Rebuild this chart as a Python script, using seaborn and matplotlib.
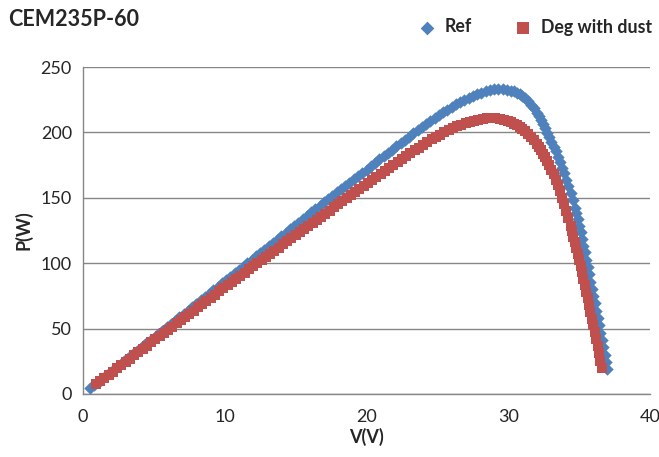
import seaborn as sns
import matplotlib.pyplot as plt
import pandas as pd

# Ref module curve (V, P)
ref_v = [0.5, 0.8, 1.1, 1.4, 1.7, 2.0, 2.3, 2.6, 2.9, 3.2, 3.5, 3.8, 4.1, 4.4, 4.7,
         5.0, 5.3, 5.6, 5.9, 6.2, 6.5, 6.8, 7.1, 7.4, 7.7, 8.0, 8.3, 8.6, 8.9, 9.2,
         9.5, 9.8, 10.1, 10.4, 10.7, 11.0, 11.3, 11.6, 11.9, 12.2, 12.5, 12.8, 13.1,
         13.4, 13.7, 14.0, 14.3, 14.6, 14.9, 15.2, 15.5, 15.8, 16.1, 16.4, 16.7, 17.0,
         17.3, 17.6, 17.9, 18.2, 18.5, 18.8, 19.1, 19.4, 19.7, 20.0, 20.3, 20.6, 20.9,
         21.2, 21.5, 21.8, 22.1, 22.4, 22.7, 23.0, 23.3, 23.6, 23.9, 24.2, 24.5, 24.8,
         25.1, 25.4, 25.7, 26.0, 26.3, 26.6, 26.9, 27.2, 27.5, 27.8, 28.1, 28.4, 28.7,
         29.0, 29.3, 29.6, 29.9, 30.2, 30.4, 30.6, 30.8, 31.0, 31.2, 31.4, 31.6, 31.8,
         32.0, 32.15, 32.3, 32.45, 32.6, 32.75, 32.9, 33.05, 33.2, 33.35, 33.5, 33.65,
         33.8, 33.95, 34.1, 34.25, 34.4, 34.55, 34.7, 34.8, 34.9, 35.0, 35.1, 35.2,
         35.3, 35.4, 35.5, 35.6, 35.7, 35.8, 35.9, 36.0, 36.1, 36.2, 36.3, 36.4, 36.5,
         36.6, 36.7, 36.8, 36.9, 37.0]
ref_p = [4.3, 6.9, 9.5, 12.1, 14.7, 17.2, 19.8, 22.4, 25.0, 27.6, 30.2, 32.8, 35.3, 37.9, 40.5,
         43.1, 45.7, 48.3, 50.9, 53.4, 56.0, 58.6, 61.2, 63.8, 66.4, 69.0, 71.5, 74.1, 76.7, 79.3,
         81.9, 84.5, 87.1, 89.6, 92.2, 94.8, 97.4, 100.0, 102.6, 105.2, 107.8, 110.3, 112.9,
         115.5, 118.1, 120.7, 123.3, 125.9, 128.4, 131.0, 133.6, 136.2, 138.8, 141.3, 143.9, 146.5,
         149.1, 151.6, 154.2, 156.5, 159.1, 161.6, 164.2, 166.7, 169.3, 171.6, 174.1, 176.7, 179.3,
         181.8, 184.3, 186.9, 189.4, 191.9, 194.4, 196.7, 199.2, 201.6, 204.0, 206.4, 208.7, 211.0,
         213.2, 215.4, 217.5, 219.4, 221.4, 223.2, 224.9, 226.5, 228.0, 229.3, 230.5, 231.5, 232.3,
         232.8, 233.0, 232.9, 232.6, 231.9, 231.3, 230.5, 229.4, 228.0, 226.2, 224.0, 221.3, 218.3,
         215.0, 212.2, 209.3, 206.2, 203.0, 199.7, 196.3, 192.8, 189.2, 185.5, 181.5, 177.4,
         173.1, 168.6, 163.9, 159.0, 154.0, 148.6, 142.5, 138.2, 133.6, 128.8, 123.8, 118.7,
         113.5, 108.2, 102.8, 97.2, 91.6, 86.0, 80.4, 74.8, 69.2, 63.6, 58.0, 52.4, 46.8,
         41.2, 35.6, 30.0, 24.4, 18.8]

# Degraded module with dust (V, P)
deg_v = [0.9, 1.2, 1.5, 1.8, 2.1, 2.4, 2.7, 3.0, 3.3, 3.6, 3.9, 4.2, 4.5, 4.8, 5.1,
         5.4, 5.7, 6.0, 6.3, 6.6, 6.9, 7.2, 7.5, 7.8, 8.1, 8.4, 8.7, 9.0, 9.3, 9.6,
         9.9, 10.2, 10.5, 10.8, 11.1, 11.4, 11.7, 12.0, 12.3, 12.6, 12.9, 13.2, 13.5,
         13.8, 14.1, 14.4, 14.7, 15.0, 15.3, 15.6, 15.9, 16.2, 16.5, 16.8, 17.1, 17.4,
         17.7, 18.0, 18.3, 18.6, 18.9, 19.2, 19.5, 19.8, 20.1, 20.4, 20.7, 21.0, 21.3,
         21.6, 21.9, 22.2, 22.5, 22.8, 23.1, 23.4, 23.7, 24.0, 24.3, 24.6, 24.9, 25.2,
         25.5, 25.8, 26.1, 26.4, 26.7, 27.0, 27.3, 27.6, 27.9, 28.2, 28.5, 28.8, 29.1,
         29.4, 29.7, 30.0, 30.2, 30.4, 30.6, 30.8, 31.0, 31.2, 31.4, 31.6, 31.8, 32.0,
         32.15, 32.3, 32.45, 32.6, 32.75, 32.9, 33.05, 33.2, 33.35, 33.5, 33.65, 33.8,
         33.95, 34.1, 34.25, 34.4, 34.5, 34.6, 34.7, 34.8, 34.9, 35.0, 35.1, 35.2, 35.3,
         35.4, 35.5, 35.6, 35.7, 35.8, 35.9, 36.0, 36.1, 36.2, 36.3, 36.4, 36.5, 36.6]
deg_p = [7.4, 9.8, 12.3, 14.8, 17.2, 19.7, 22.1, 24.6, 27.1, 29.5, 32.0, 34.4, 36.9, 39.4, 41.8,
         44.3, 46.7, 49.2, 51.6, 54.0, 56.5, 58.9, 61.4, 63.8, 66.2, 68.7, 71.1, 73.5, 76.0, 78.4,
         80.8, 83.2, 85.6, 88.0, 90.4, 92.8, 95.2, 97.6, 100.0, 102.4, 104.8, 107.2, 109.6,
         112.0, 114.3, 116.7, 119.1, 121.2, 123.6, 126.0, 128.4, 130.7, 133.1, 135.5, 137.8, 140.2,
         142.6, 144.9, 147.2, 149.6, 151.9, 154.3, 156.7, 159.0, 161.3, 163.7, 166.0, 168.2, 170.6,
         172.9, 175.2, 177.5, 179.7, 181.9, 184.1, 186.3, 188.4, 190.5, 192.6, 194.6, 196.5, 198.3,
         200.1, 201.7, 203.2, 204.6, 205.9, 207.1, 208.1, 209.0, 209.8, 210.4, 210.8, 211.0, 210.9,
         210.6, 209.7, 208.6, 207.6, 206.5, 205.3, 204.0, 202.5, 200.7, 198.7, 196.4, 193.9, 191.0,
         188.7, 186.3, 183.8, 181.1, 178.2, 175.0, 171.6, 167.9, 163.9, 159.5, 154.9, 150.0,
         145.0, 139.8, 134.3, 128.6, 124.5, 120.4, 116.1, 111.7, 107.1, 102.5, 97.8, 93.0, 88.1,
         83.2, 78.2, 73.1, 68.0, 62.8, 57.6, 52.4, 47.1, 41.8, 36.4, 31.0, 25.6, 20.2]

series_names = ["Ref", "Deg with dust"]
series_colors = ["#4F81BD", "#C0504D"]
series_markers = ["D", "s"]

df = pd.concat([
    pd.DataFrame({"V": ref_v, "P": ref_p, "series": series_names[0]}),
    pd.DataFrame({"V": deg_v, "P": deg_p, "series": series_names[1]}),
])

sns.set_style("white")
plt.rcParams["font.family"] = ["Lato", "DejaVu Sans"]

fig = plt.figure(figsize=(6.59, 4.57), dpi=100)
ax = fig.add_axes([83 / 659, 63 / 457, 567 / 659, 327 / 457])

sizes = [40, 62]
for name, col, mk, sz in zip(series_names, series_colors, series_markers, sizes):
    sns.scatterplot(data=df[df.series == name], x="V", y="P", ax=ax,
                    color=col, marker=mk, s=sz, linewidth=0, label=name, zorder=3)

ax.set_xlim(0, 40)
ax.set_ylim(0, 250)
ax.set_xticks([0, 10, 20, 30, 40])
ax.set_yticks([0, 50, 100, 150, 200, 250])
ax.yaxis.grid(True, color="#868686", linewidth=1.0)
ax.set_axisbelow(True)
for s in ["top", "right"]:
    ax.spines[s].set_visible(False)
for s in ["left", "bottom"]:
    ax.spines[s].set_color("#868686")
    ax.spines[s].set_linewidth(1.0)
ax.tick_params(axis="both", direction="out", length=5, width=1.0,
               color="#868686", labelsize=13, pad=3)
ax.tick_params(axis="x", pad=6)

ax.set_xlabel("V(V)", fontsize=13, fontweight="bold", labelpad=2)
ax.set_ylabel("P(W)", fontsize=13, fontweight="bold", labelpad=6)

fig.text(8 / 659, 1 - 20 / 457, "CEM235P-60", fontsize=15.5, fontweight="bold",
         va="center", ha="left")

ax.legend_.remove()
handles, labels = ax.get_legend_handles_labels()
fig.legend(handles, labels, loc="center right", bbox_to_anchor=(1.014, 1 - 27 / 457),
           ncol=2, frameon=False, prop={"weight": "bold", "size": 12.8},
           handletextpad=0.0, columnspacing=1.9, markerscale=1.1)

fig.savefig("out.png", dpi=100)
